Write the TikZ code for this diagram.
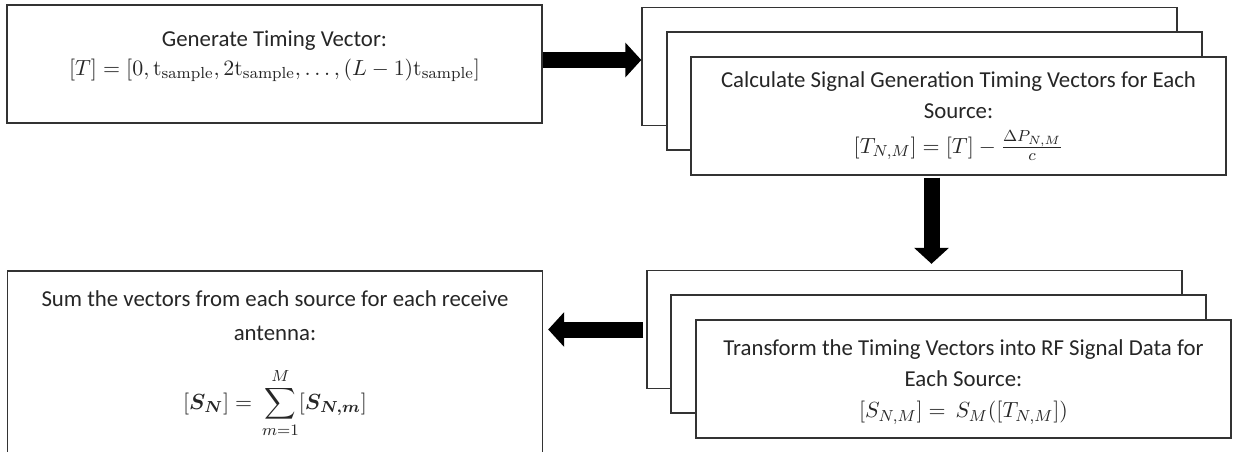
\documentclass[tikz,border=0pt]{standalone}
\usepackage[no-math]{fontspec}
\setmainfont{Carlito}
\usepackage{amsmath}
\usepackage{bm}
\usetikzlibrary{arrows.meta,positioning}
\tikzset{%
  box/.style = {rectangle,draw=black!80,line width=0.7pt,fill=white,
        minimum width=267.5pt,minimum height=59pt,inner sep=0pt},
  txt/.style = {align=center,text=black!85,inner sep=0pt,
        font=\fontsize{11.4pt}{15.5pt}\selectfont},
  blockarrow/.style = {line width=8pt,
        -{Triangle[length=8pt,width=17pt]}}
}

\begin{document}
\begin{tikzpicture}[x=0.5pt,y=-0.5pt]
        \useasboundingbox (0,0) rectangle (1236,451);
        \clip (0,0) rectangle (1236,451);
        % timing vector
        \node[box] (gen) at (274.5,64) {};
        \node[txt] (gentxt) at (274.5,56) {Generate Timing Vector:\\[-1pt]
          $[T] = [0,\mathrm{t}_{\mathrm{sample}}, 2\mathrm{t}_{\mathrm{sample}}, \dots, (L-1)\mathrm{t}_{\mathrm{sample}}]$};
        % stack for each source (timing)
        \node[box] (calcA) at (909.5,66.5) {};
        \node[box] (calcB) at (934.5,91) {};
        \node[box] (calc) at (958.5,116) {};
        \node[txt] (calctxt) at (958.5,116) {Calculate Signal Generation Timing Vectors for Each\\
          Source:\\[2pt]
          $\left[T_{N,M}\right] = [T] - \frac{\Delta P_{N,M}}{c}$};
        % stack for each source (RF data)
        \node[box] (trA) at (914.5,329.5) {};
        \node[box] (trB) at (938.5,354) {};
        \node[box] (tr) at (963.5,379) {};
        \node[txt] (trtxt) at (963.5,382) {Transform the Timing Vectors into RF Signal Data for\\
          Each Source:\\
          $\left[S_{N,M}\right] = \,S_M(\left[T_{N,M}\right])$};
        % sum over sources
        \node[box,minimum height=104.5pt] (sum) at (275,375.5) {};
        \node[txt] (sumtxt) at (275,364) {Sum the vectors from each source for each receive\\[1.5pt]
          antenna:\\[13pt]
          $\displaystyle [\bm{S_N}] = \,\sum_{m=1}^{M} [\bm{S_{N,m}}]$};
        % flow
        \draw[blockarrow] ([yshift=2pt]gen.east) -- ([yshift=2pt]gen.east -| calcA.west);
        \draw[blockarrow,shorten <=1pt,shorten >=3pt] ([xshift=-13.5pt]calc.south)
          -- ([xshift=-13.5pt]calc.south |- trA.north);
        \draw[blockarrow,shorten <=1.5pt,shorten >=2.5pt] (trA.west) -- (trA.west -| sum.east);
    \end{tikzpicture}
\end{document}
